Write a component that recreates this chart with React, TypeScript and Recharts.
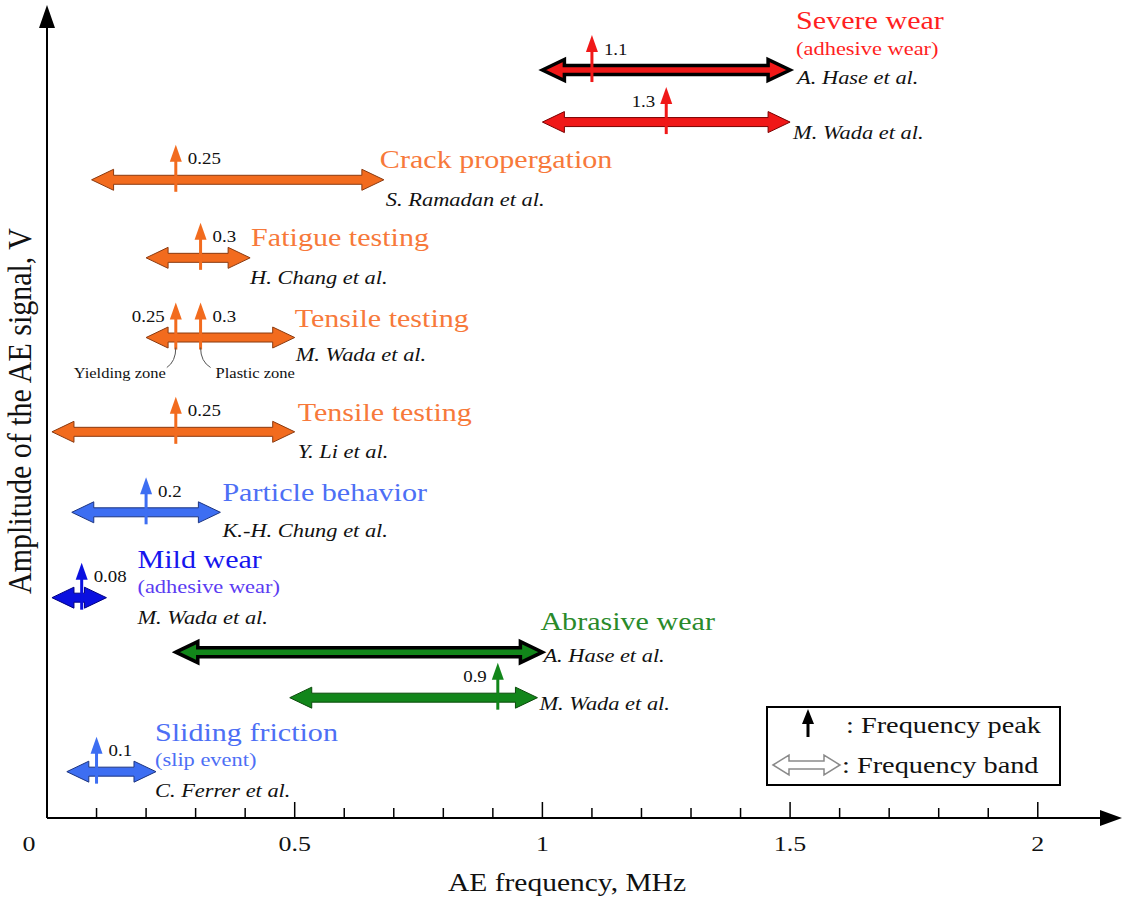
import { ComposedChart, XAxis, YAxis, ReferenceLine, ReferenceDot } from 'recharts';

const SERIF = '"Liberation Serif", "Times New Roman", serif';
// the source figure is drawn a bit wider than normal type, so text gets stretched
const STRETCH = 1.18;

// one entry per study (top to bottom)
const groups = [
  'Severe wear', '', 'Crack propergation', 'Fatigue testing', 'Tensile testing', 'Tensile testing',
  'Particle behavior', 'Mild wear', 'Abrasive wear', '', 'Sliding friction',
];
const notes = ['(adhesive wear)', '', '', '', '', '', '', '(adhesive wear)', '', '', '(slip event)'];
const authors = [
  'A. Hase et al.', 'M. Wada et al.', 'S. Ramadan et al.', 'H. Chang et al.', 'M. Wada et al.', 'Y. Li et al.',
  'K.-H. Chung et al.', 'M. Wada et al.', 'A. Hase et al.', 'M. Wada et al.', 'C. Ferrer et al.',
];
// frequency band, MHz
const bandStart = [1.0, 1.0, 0.09, 0.2, 0.2, 0.01, 0.05, 0.01, 0.26, 0.49, 0.04];
const bandEnd = [1.5, 1.5, 0.68, 0.41, 0.5, 0.5, 0.35, 0.12, 1.0, 0.99, 0.22];
// vertical placement on the (unscaled) amplitude axis
const amplitude = [92.0, 85.6, 78.5, 68.9, 59.1, 47.5, 37.6, 27.1, 20.4, 14.8, 5.7];
// frequency peaks, MHz, and the numbers printed next to them
const peakAt = [[1.1], [1.25], [0.26], [0.31], [0.26, 0.31], [0.26], [0.2], [0.07], [], [0.91], [0.1]];
const peakText = [['1.1'], ['1.3'], ['0.25'], ['0.3'], ['0.25', '0.3'], ['0.25'], ['0.2'], ['0.08'], [], ['0.9'], ['0.1']];
const zoneNotes = [
  { row: 4, at: 0.26, text: 'Yielding zone' },
  { row: 4, at: 0.31, text: 'Plastic zone' },
];

const xTicks = [0, 0.1, 0.2, 0.3, 0.4, 0.5, 0.6, 0.7, 0.8, 0.9, 1, 1.1, 1.2, 1.3, 1.4, 1.5, 1.6, 1.7, 1.8, 1.9, 2];
const xMajor = [0, 0.5, 1, 1.5, 2];
const xMajorLabels = ['0', '0.5', '1', '1.5', '2'];

const RED = { fill: '#f01818', edge: '#7a0000', text: '#ff1f1f' };
const ORANGE = { fill: '#f26b1e', edge: '#8a3a10', text: '#f7793a' };
const BLUE = { fill: '#3d6ef2', edge: '#1d3580', text: '#4d6ff5' };
const NAVY = { fill: '#0a10e0', edge: '#000080', text: '#1616ee' };
const GREEN = { fill: '#12861a', edge: '#0a4a0a', text: '#2a8a2a' };

const rowColor = [RED, RED, ORANGE, ORANGE, ORANGE, ORANGE, BLUE, NAVY, GREEN, GREEN, BLUE];
const blackRim = [true, false, false, false, false, false, false, false, true, false, false];
// which side of the peak arrow the number sits on
const peakSide = [['r'], ['l'], ['r'], ['r'], ['l', 'r'], ['r'], ['r'], ['r'], [], ['l'], ['r']];
// label offsets in px from the right tip of the band
const titleOff = [[6, -50], [0, 0], [-4, -20], [1, -21], [0, -19], [3, -20], [2, -20], [31, -38], [-2, -31], [0, 0], [-1, -39]];
const noteDy = [-22, 0, 0, 0, 0, 0, 0, -12, 0, 0, -13];
const authorOff = [[7, 7], [3, 10], [2, 19], [0, 19], [1, 17], [3, 19], [2, 18], [31, 19], [1, 3], [2, 5], [-1, 18]];

function T({ x, y, size, color = '#111', italic = false, anchor = 'start', children }: any) {
  return (
    <text
      transform={`translate(${x},${y}) scale(${STRETCH},1)`}
      fontSize={size}
      fill={color}
      fontFamily={SERIF}
      fontStyle={italic ? 'italic' : 'normal'}
      textAnchor={anchor}
      dominantBaseline="central"
    >
      {children}
    </text>
  );
}

const bandShape = (fill: string, edge: string, rim: boolean) => (p: any) => {
  const { x1, x2, y1 } = p;
  const y = y1;
  const h = Math.min(22, (x2 - x1) / 2);
  const H = 10.5;
  const s = 4.5;
  const pts = [
    [x1, y], [x1 + h, y - H], [x1 + h, y - s], [x2 - h, y - s], [x2 - h, y - H],
    [x2, y], [x2 - h, y + H], [x2 - h, y + s], [x1 + h, y + s], [x1 + h, y + H],
  ];
  return (
    <polygon
      points={pts.map((q) => q.join(',')).join(' ')}
      fill={fill}
      stroke={rim ? '#000' : edge}
      strokeWidth={rim ? 3.5 : 1}
      strokeLinejoin="miter"
    />
  );
};

const peakShape = (color: string, label: string, side: string) => (p: any) => {
  const { cx, cy } = p;
  return (
    <g>
      <line x1={cx} y1={cy + 12} x2={cx} y2={cy - 19} stroke={color} strokeWidth={3} />
      <polygon points={`${cx - 6},${cy - 18} ${cx},${cy - 35} ${cx + 6},${cy - 18}`} fill={color} />
      <T x={side === 'r' ? cx + 12 : cx - 11} y={cy - 21} size={16} anchor={side === 'r' ? 'start' : 'end'}>
        {label}
      </T>
    </g>
  );
};

const zoneShape = (text: string, left: boolean) => (p: any) => {
  const { cx, cy } = p;
  const ex = left ? cx - 9 : cx + 10;
  return (
    <g>
      <path d={`M${cx},${cy + 10} Q${cx},${cy + 24} ${ex},${cy + 30}`} fill="none" stroke="#555" strokeWidth={1} />
      <T x={left ? cx - 10 : cx + 15} y={cy + 35} size={14} anchor={left ? 'end' : 'start'}>
        {text}
      </T>
    </g>
  );
};

const labelShape = (i: number) => (p: any) => {
  const { cx, cy } = p;
  const c = rowColor[i];
  return (
    <g>
      {groups[i] && (
        <T x={cx + titleOff[i][0]} y={cy + titleOff[i][1]} size={25.5} color={c.text}>
          {groups[i]}
        </T>
      )}
      {notes[i] && (
        <T x={cx + titleOff[i][0]} y={cy + noteDy[i]} size={19} color={i === 7 ? '#5b3cf2' : c.text}>
          {notes[i]}
        </T>
      )}
      <T x={cx + authorOff[i][0]} y={cy + authorOff[i][1]} size={19} italic>
        {authors[i]}
      </T>
    </g>
  );
};

const xAxisArrow = (p: any) => {
  const { x1, x2, y1 } = p;
  return (
    <g>
      <line x1={x1} y1={y1} x2={x2 - 20} y2={y1} stroke="#000" strokeWidth={2} />
      <polygon points={`${x2 - 22},${y1 - 8} ${x2},${y1} ${x2 - 22},${y1 + 8}`} fill="#000" />
    </g>
  );
};

const yAxisArrow = (p: any) => {
  const { x1, y1, y2 } = p;
  const top = Math.min(y1, y2);
  const bottom = Math.max(y1, y2);
  return (
    <g>
      <line x1={x1} y1={bottom} x2={x1} y2={top + 20} stroke="#000" strokeWidth={2} />
      <polygon points={`${x1 - 8},${top + 23} ${x1},${top} ${x1 + 8},${top + 23}`} fill="#000" />
    </g>
  );
};

const XTick = (p: any) => {
  const { x, y, payload } = p;
  const v = payload.value;
  const mi = xMajor.findIndex((m) => Math.abs(m - v) < 1e-6);
  const major = mi >= 0;
  return (
    <g>
      {v > 0 && <line x1={x} y1={y} x2={x} y2={y - (major ? 16 : 10)} stroke="#000" strokeWidth={1.5} />}
      {major && (
        <T x={v === 0 ? x - 18 : x} y={y + 26} size={22} anchor="middle">
          {xMajorLabels[mi]}
        </T>
      )}
    </g>
  );
};

export default function App() {
  const W = 1132;
  const H = 897;
  return (
    <div style={{ position: 'absolute', left: 0, top: 0, width: W, height: H, background: '#fff' }}>
      <ComposedChart width={W} height={H} margin={{ top: 5, right: 10, left: 47, bottom: 39 }} data={[]}>
        <XAxis
          type="number"
          dataKey="x"
          domain={[0, 2.17]}
          allowDataOverflow
          ticks={xTicks}
          interval={0}
          axisLine={false}
          tickLine={false}
          tickSize={0}
          tickMargin={0}
          height={40}
          tick={<XTick />}
        />
        <YAxis type="number" dataKey="y" domain={[0, 100]} allowDataOverflow hide />

        <ReferenceLine segment={[{ x: 0, y: 0 }, { x: 2.17, y: 0 }]} shape={xAxisArrow} />
        <ReferenceLine segment={[{ x: 0, y: 0 }, { x: 0, y: 100 }]} shape={yAxisArrow} />

        {amplitude.map((a, i) => (
          <ReferenceLine
            key={`band-${i}`}
            segment={[{ x: bandStart[i], y: a }, { x: bandEnd[i], y: a }]}
            shape={bandShape(rowColor[i].fill, rowColor[i].edge, blackRim[i])}
          />
        ))}

        {amplitude.map((a, i) =>
          peakAt[i].map((pk, j) => (
            <ReferenceDot
              key={`peak-${i}-${j}`}
              x={pk}
              y={a}
              r={0}
              shape={peakShape(rowColor[i].fill, peakText[i][j], peakSide[i][j])}
            />
          )),
        )}

        {zoneNotes.map((z, k) => (
          <ReferenceDot key={`zone-${k}`} x={z.at} y={amplitude[z.row]} r={0} shape={zoneShape(z.text, k === 0)} />
        ))}

        {amplitude.map((a, i) => (
          <ReferenceDot key={`lab-${i}`} x={bandEnd[i]} y={a} r={0} shape={labelShape(i)} />
        ))}
      </ComposedChart>

      <svg width={W} height={H} style={{ position: 'absolute', left: 0, top: 0, pointerEvents: 'none' }}>
        <T x={567} y={883} size={25} anchor="middle">AE frequency, MHz</T>
        <text
          transform="translate(20,411) scale(1.1,1) rotate(-90)"
          fontSize={30}
          fontFamily={SERIF}
          fill="#111"
          textAnchor="middle"
          dominantBaseline="central"
        >
          Amplitude of the AE signal, V
        </text>

        <rect x={767} y={707} width={293} height={78} fill="#fff" stroke="#000" strokeWidth={2} />
        <line x1={808} y1={737} x2={808} y2={722} stroke="#000" strokeWidth={3} />
        <polygon points="802,724 808,709 814,724" fill="#000" />
        <T x={846} y={725} size={24}>: Frequency peak</T>
        <polygon
          points="773,765 789,755 789,761 824,761 824,755 840,765 824,775 824,769 789,769 789,775"
          fill="#fff"
          stroke="#8a8a8a"
          strokeWidth={1.5}
        />
        <T x={842} y={765} size={24}>: Frequency band</T>
      </svg>
    </div>
  );
}
